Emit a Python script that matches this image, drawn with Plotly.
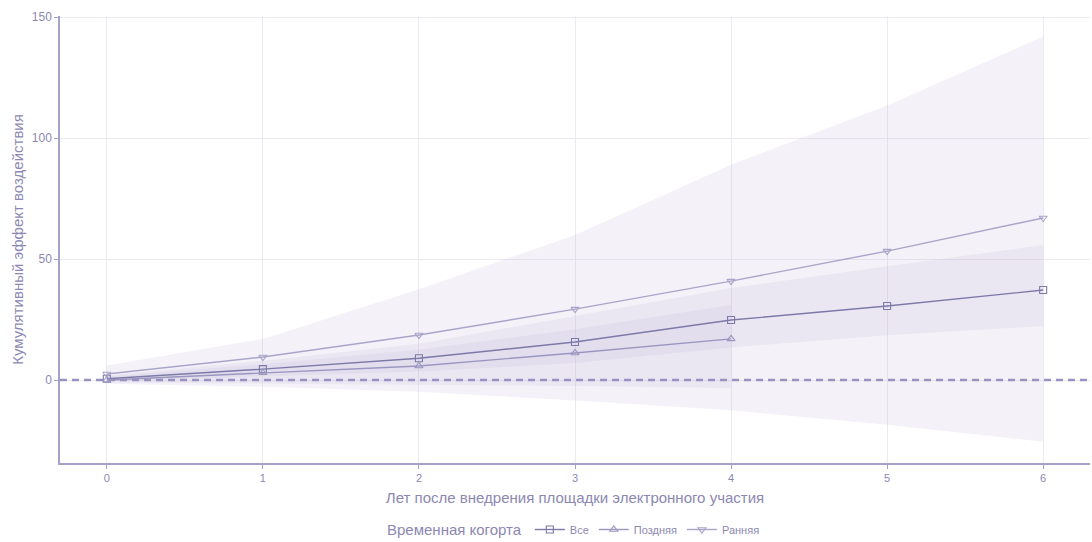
import plotly.graph_objects as go

years = [0, 1, 2, 3, 4, 5, 6]
years_late = [0, 1, 2, 3, 4]

all_est = [0.5, 4.5, 9.0, 15.7, 24.8, 30.6, 37.2]
all_lo = [-0.5, 1.5, 3.5, 7.0, 13.5, 18.5, 22.3]
all_hi = [2.0, 8.0, 15.0, 26.5, 38.0, 47.0, 55.8]

late_est = [0.0, 3.0, 5.8, 11.2, 17.0]
late_lo = [-1.0, -1.5, -2.0, -2.5, -3.3]
late_hi = [1.5, 6.5, 12.5, 21.0, 31.0]

early_est = [2.5, 9.5, 18.6, 29.3, 40.9, 53.3, 67.0]
early_lo = [-1.5, -2.8, -4.8, -8.5, -12.5, -18.5, -25.5]
early_hi = [6.0, 17.0, 37.5, 60.0, 89.0, 113.5, 142.0]

series = [
    ("Все", years, all_est, all_lo, all_hi, "square-open", "#7d79a9"),
    ("Поздняя", years_late, late_est, late_lo, late_hi, "triangle-up-open", "#9a96c0"),
    ("Ранняя", years, early_est, early_lo, early_hi, "triangle-down-open", "#a9a5ca"),
]

txt = "#8c88b2"
fig = go.Figure()

for name, xs, est, lo, hi, sym, col in series:
    fig.add_trace(go.Scatter(
        x=list(xs) + list(xs)[::-1], y=list(hi) + list(lo)[::-1],
        fill="toself", fillcolor="rgba(185,175,210,0.16)",
        line=dict(width=0), mode="lines", hoverinfo="skip", showlegend=False))

for name, xs, est, lo, hi, sym, col in series:
    fig.add_trace(go.Scatter(
        x=xs, y=est, name=name, mode="lines+markers",
        line=dict(color=col, width=1.4),
        marker=dict(symbol=sym, size=7, color=col, line=dict(width=1.1, color=col))))

fig.add_shape(type="line", xref="paper", x0=0, x1=1, yref="y", y0=0, y1=0,
              line=dict(color="#9792c0", width=2.4, dash="7px,5px"), layer="above")

fig.update_layout(
    width=1092, height=542,
    margin=dict(l=60, r=2, t=16, b=79, autoexpand=False),
    paper_bgcolor="white", plot_bgcolor="white",
    font=dict(family="Liberation Sans, Arial, sans-serif", color=txt, size=12),
    showlegend=True,
    legend=dict(orientation="h", x=0.5, xanchor="center", yref="container",
                y=(542 - 530) / 542, yanchor="middle",
                title=dict(text="Временная когорта", font=dict(size=15, color=txt), side="left"),
                font=dict(size=11, color=txt), itemwidth=30, traceorder="normal"),
)
fig.update_xaxes(
    range=[-0.3, 6.3], tickvals=years, ticktext=[str(v) for v in years],
    showgrid=True, gridcolor="#ece9f1", gridwidth=1,
    showline=True, linecolor="#a5a1c8", linewidth=1.5,
    ticks="outside", ticklen=4, tickcolor="#a5a1c8",
    zeroline=False, tickfont=dict(size=11, color=txt), automargin=False,
    title=dict(text="Лет после внедрения площадки электронного участия",
               font=dict(size=15, color=txt), standoff=10),
)
fig.update_yaxes(
    range=[-34.3, 150.5], tickvals=[0, 50, 100, 150],
    showgrid=True, gridcolor="#ece9f1", gridwidth=1,
    showline=True, linecolor="#a5a1c8", linewidth=1.5,
    ticks="outside", ticklen=4, tickcolor="#a5a1c8",
    zeroline=False, tickfont=dict(size=12, color=txt), automargin=False,
    title=dict(text="Кумулятивный эффект воздействия", font=dict(size=15, color=txt), standoff=5),
)

fig.write_html("out.html")
